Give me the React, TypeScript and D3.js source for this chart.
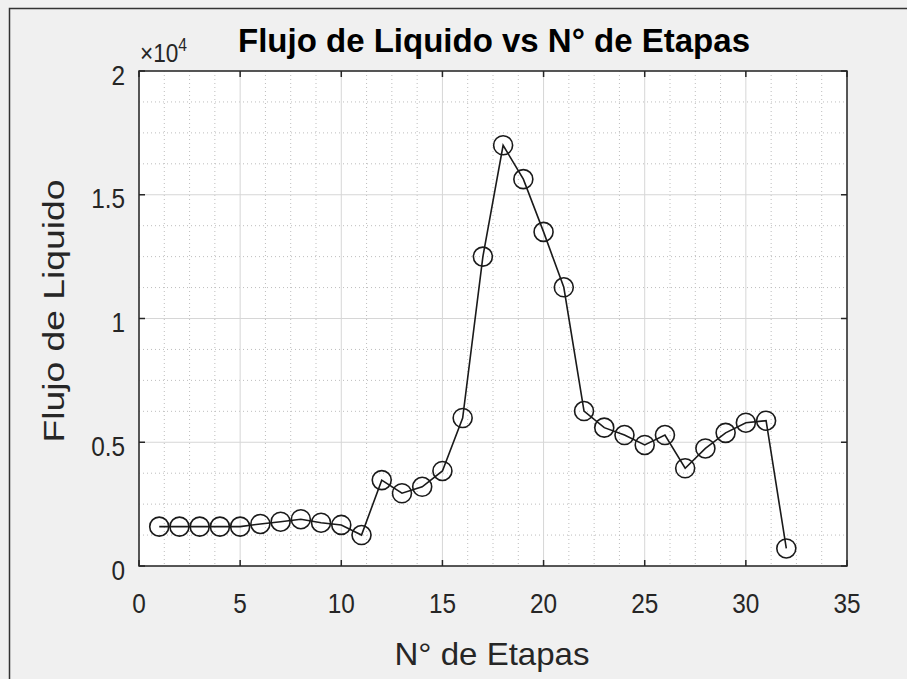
import { useEffect, useRef } from 'react';
import * as d3 from 'd3';

// Flujo de liquido por etapa (valores reales, eje en x10^4)
const etapas = d3.range(1, 33);
const flujo = [
  1590, 1590, 1590, 1590, 1590, 1700, 1790, 1890, 1750, 1660,
  1250, 3470, 2940, 3200, 3840, 5980, 12500, 17000, 15630, 13500,
  11260, 6260, 5590, 5290, 4890, 5290, 3950, 4750, 5380, 5790,
  5870, 710,
];
const xTicks = [0, 5, 10, 15, 20, 25, 30, 35];
const yTicks = [0, 0.5, 1, 1.5, 2];
const yTickLabels = ['0', '0.5', '1', '1.5', '2'];

export default function App() {
  const ref = useRef<SVGSVGElement>(null);

  useEffect(() => {
    if (!ref.current) return;
    const W = 907, H = 679;
    const m = { left: 139, right: 847, top: 71, bottom: 566 };
    const font = 'Liberation Sans, Arial, Helvetica, sans-serif';
    const ink = '#262626';
    const sx = 0.87; // la imagen original esta algo comprimida en horizontal

    const svg = d3.select(ref.current).attr('width', W).attr('height', H);
    svg.selectAll('*').remove();

    svg.append('rect').attr('width', W).attr('height', H).attr('fill', '#f0f0f0');
    // borde de la ventana
    svg.append('path').attr('d', `M9.5,${H}V8.5H${W}`).attr('fill', 'none')
      .attr('stroke', '#333').attr('stroke-width', 1.5);

    const x = d3.scaleLinear().domain([0, 35]).range([m.left, m.right]);
    const y = d3.scaleLinear().domain([0, 2]).range([m.bottom, m.top]);

    svg.append('rect').attr('x', m.left).attr('y', m.top)
      .attr('width', m.right - m.left).attr('height', m.bottom - m.top).attr('fill', '#fff');

    // rejilla menor (punteada)
    const minorX = d3.range(0, 35.001, 1.25).filter(v => v % 5 !== 0);
    const minorY = d3.range(0, 2.001, 0.125).filter(v => Math.abs(v * 2 - Math.round(v * 2)) > 1e-6);
    const grid = svg.append('g');
    minorX.forEach(v => grid.append('line').attr('x1', x(v)).attr('x2', x(v))
      .attr('y1', m.top).attr('y2', m.bottom)
      .attr('stroke', '#bdbdbd').attr('stroke-width', 1).attr('stroke-dasharray', '1,3'));
    minorY.forEach(v => grid.append('line').attr('y1', y(v)).attr('y2', y(v))
      .attr('x1', m.left).attr('x2', m.right)
      .attr('stroke', '#bdbdbd').attr('stroke-width', 1).attr('stroke-dasharray', '1,3'));
    // rejilla mayor
    xTicks.forEach(v => grid.append('line').attr('x1', x(v)).attr('x2', x(v))
      .attr('y1', m.top).attr('y2', m.bottom).attr('stroke', '#d6d6d6').attr('stroke-width', 1));
    yTicks.forEach(v => grid.append('line').attr('y1', y(v)).attr('y2', y(v))
      .attr('x1', m.left).attr('x2', m.right).attr('stroke', '#d6d6d6').attr('stroke-width', 1));

    // caja y marcas
    svg.append('rect').attr('x', m.left).attr('y', m.top)
      .attr('width', m.right - m.left).attr('height', m.bottom - m.top)
      .attr('fill', 'none').attr('stroke', ink).attr('stroke-width', 1.5);
    const tl = 6;
    xTicks.forEach(v => {
      svg.append('line').attr('x1', x(v)).attr('x2', x(v)).attr('y1', m.bottom).attr('y2', m.bottom - tl)
        .attr('stroke', ink).attr('stroke-width', 1.5);
      svg.append('line').attr('x1', x(v)).attr('x2', x(v)).attr('y1', m.top).attr('y2', m.top + tl)
        .attr('stroke', ink).attr('stroke-width', 1.5);
      svg.append('text').attr('transform', `translate(${x(v)},613) scale(${sx},1)`)
        .attr('text-anchor', 'middle')
        .attr('font-family', font).attr('font-size', 28).attr('fill', ink).text(String(v));
    });
    yTicks.forEach((v, i) => {
      svg.append('line').attr('y1', y(v)).attr('y2', y(v)).attr('x1', m.left).attr('x2', m.left + tl)
        .attr('stroke', ink).attr('stroke-width', 1.5);
      svg.append('line').attr('y1', y(v)).attr('y2', y(v)).attr('x1', m.right).attr('x2', m.right - tl)
        .attr('stroke', ink).attr('stroke-width', 1.5);
      svg.append('text').attr('transform', `translate(125,${y(v) + 13.5}) scale(${sx},1)`)
        .attr('text-anchor', 'end')
        .attr('font-family', font).attr('font-size', 28).attr('fill', ink).text(yTickLabels[i]);
    });

    // exponente
    const ex = svg.append('text').attr('transform', `translate(140,62) scale(${sx},1)`)
      .attr('font-family', font).attr('font-size', 26).attr('fill', ink);
    ex.append('tspan').text('\u00d710');
    ex.append('tspan').attr('font-size', 18).attr('dy', -11).text('4');

    // titulos
    svg.append('text').attr('x', 494).attr('y', 52).attr('text-anchor', 'middle')
      .attr('font-family', font).attr('font-size', 34).attr('font-weight', 'bold')
      .attr('textLength', 512).attr('lengthAdjust', 'spacingAndGlyphs')
      .attr('fill', '#000').text('Flujo de Liquido vs N\u00b0 de Etapas');
    svg.append('text').attr('x', 492).attr('y', 665).attr('text-anchor', 'middle')
      .attr('font-family', font).attr('font-size', 32)
      .attr('textLength', 195).attr('lengthAdjust', 'spacingAndGlyphs')
      .attr('fill', ink).text('N\u00b0 de Etapas');
    svg.append('text').attr('transform', `translate(64,311) rotate(-90) scale(1,0.85)`)
      .attr('text-anchor', 'middle')
      .attr('font-family', font).attr('font-size', 34)
      .attr('textLength', 263).attr('lengthAdjust', 'spacingAndGlyphs')
      .attr('fill', ink).text('Flujo de Liquido');

    // serie
    const pts = etapas.map((e, i) => [e, flujo[i] / 1e4] as [number, number]);
    const line = d3.line<[number, number]>().x(d => x(d[0])).y(d => y(d[1]));
    svg.append('path').attr('d', line(pts)).attr('fill', 'none')
      .attr('stroke', '#1a1a1a').attr('stroke-width', 1.6);
    svg.append('g').selectAll('circle').data(pts).join('circle')
      .attr('cx', d => x(d[0])).attr('cy', d => y(d[1])).attr('r', 9.5)
      .attr('fill', 'none').attr('stroke', '#1a1a1a').attr('stroke-width', 1.6);
  }, []);

  return <svg ref={ref} style={{ position: 'absolute', left: 0, top: 0, display: 'block' }} />;
}
